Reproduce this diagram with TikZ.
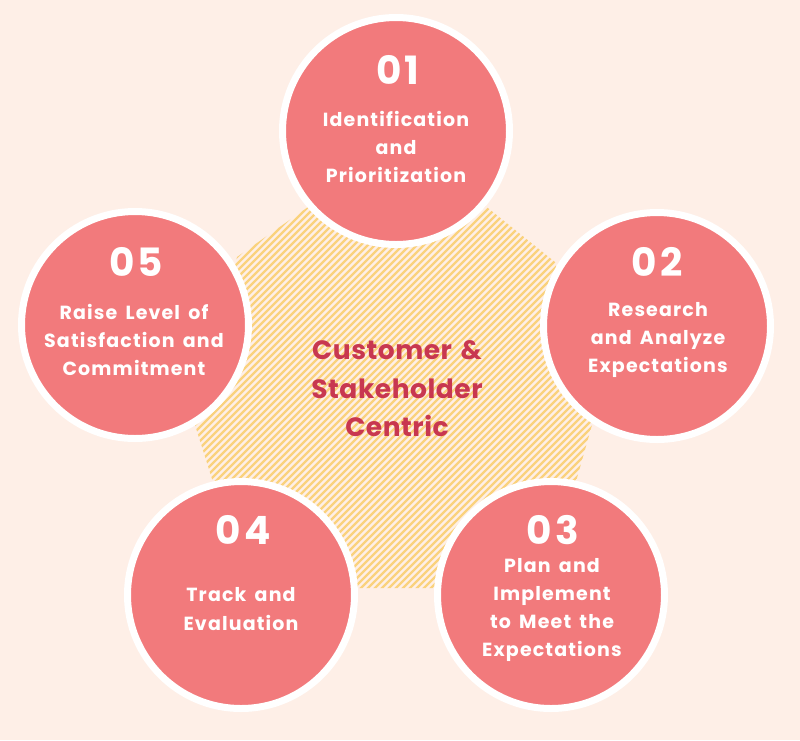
\documentclass[tikz,border=0pt]{standalone}
\usepackage{fontspec}
\setmainfont{Poppins}
\newfontfamily\lblfont{Poppins}[LetterSpace=6,WordSpace=1.6]
\newfontfamily\numfont{Poppins}[LetterSpace=8]
\newfontfamily\hubfont{Poppins}[LetterSpace=2,WordSpace=1.4]
\definecolor{bgc}{RGB}{254,239,231}
\definecolor{pinkc}{RGB}{242,122,124}
\definecolor{hubred}{RGB}{200,55,80}
\definecolor{hatchc}{RGB}{250,210,125}
\begin{document}
\begin{tikzpicture}[x=1pt,y=-1pt,
  bubble/.style={circle, fill=pinkc, draw=white, line width=7pt, minimum size=227pt, inner sep=0pt},
  num/.style={text=white, inner sep=0pt, font=\numfont\bfseries\fontsize{39}{39}\selectfont},
  lbl/.style={text=white, align=center, inner sep=0pt, font=\lblfont\bfseries\fontsize{19}{28.3}\selectfont},
  hub/.style={text=hubred, align=center, inner sep=0pt, font=\hubfont\bfseries\fontsize{26.5}{38.5}\selectfont},
  hatch/.style={draw=hatchc, line width=2.2pt}]
\useasboundingbox (0,0) rectangle (800,740);
\fill[bgc] (0,0) rectangle (800,740);
% hatched centre
\begin{scope}
\clip (318,200) -- (478,200) -- (555,262) -- (592,425) -- (575,485) -- (520,560) -- (440,588) -- (355,588) -- (275,560) -- (213,482) -- (195,425) -- (237,257) -- cycle;
\foreach \c in {480,487,...,1100} \draw[hatch] ({\c-600},600) -- ({\c-180},180);
\end{scope}
\node[hub] (hub) at (397,389) {Customer \&\\Stakeholder\\Centric};
% bubbles
\node[bubble] (c1) at (396,131) {};
\node[bubble] (c2) at (657,326) {};
\node[bubble] (c3) at (551,595) {};
\node[bubble] (c4) at (241,595) {};
\node[bubble] (c5) at (135,325) {};
% numbers
\node[num] (n1) at (398,70) {01};
\node[num] (n2) at (657,262) {02};
\node[num] (n3) at (553,530) {03};
\node[num] (n4) at (243,530) {04};
\node[num] (n5) at (136,262) {05};
% labels
\node[lbl] (t1) at (396,147) {Identification\\and\\Prioritization};
\node[lbl] (t2) at (658,340) {Research\\and Analyze\\Expectations};
\node[lbl] (t3) at (552,610) {Plan and\\Implement\\to Meet the\\Expectations};
\node[lbl] (t4) at (241,609) {Track and\\Evaluation};
\node[lbl] (t5) at (134,340) {Raise Level of\\Satisfaction and\\Commitment};
\end{tikzpicture}
\end{document}
